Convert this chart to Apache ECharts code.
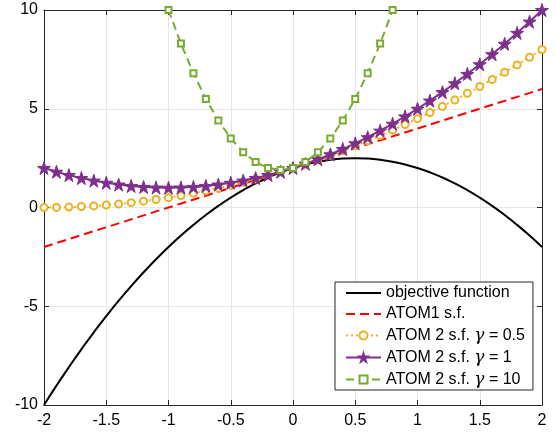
<!DOCTYPE html>
<html>
<head>
<meta charset="utf-8">
<script src="https://cdn.jsdelivr.net/npm/echarts@6/dist/echarts.min.js"></script>
<style>
  html, body { margin: 0; padding: 0; background: #fff; }
  #chart { width: 556px; height: 432px; }
</style>
</head>
<body>
<div id="chart"></div>
<script>
// x 取值 (-2 .. 2, 步长 0.1)
const xs = [-2, -1.9, -1.8, -1.7, -1.6, -1.5, -1.4, -1.3, -1.2, -1.1, -1, -0.9, -0.8, -0.7, -0.6, -0.5, -0.4, -0.3, -0.2, -0.1,
  0, 0.1, 0.2, 0.3, 0.4, 0.5, 0.6, 0.7, 0.8, 0.9, 1, 1.1, 1.2, 1.3, 1.4, 1.5, 1.6, 1.7, 1.8, 1.9, 2];

// 目标函数
const objective = [-10, -9.02, -8.08, -7.18, -6.32, -5.5, -4.72, -3.98, -3.28, -2.62, -2, -1.42, -0.88, -0.38, 0.08, 0.5, 0.88, 1.22, 1.52, 1.78,
  2, 2.18, 2.32, 2.42, 2.48, 2.5, 2.48, 2.42, 2.32, 2.18, 2, 1.78, 1.52, 1.22, 0.88, 0.5, 0.08, -0.38, -0.88, -1.42, -2];

// ATOM1 s.f. (直线两端)
const atom1X = [-2, 2];
const atom1Y = [-2, 6];

// ATOM 2 s.f. γ = 0.5
const gammaHalf = [0, 0.005, 0.02, 0.045, 0.08, 0.125, 0.18, 0.245, 0.32, 0.405, 0.5, 0.605, 0.72, 0.845, 0.98, 1.125, 1.28, 1.445, 1.62, 1.805,
  2, 2.205, 2.42, 2.645, 2.88, 3.125, 3.38, 3.645, 3.92, 4.205, 4.5, 4.805, 5.12, 5.445, 5.78, 6.125, 6.48, 6.845, 7.22, 7.605, 8];

// ATOM 2 s.f. γ = 1
const gammaOne = [2, 1.81, 1.64, 1.49, 1.36, 1.25, 1.16, 1.09, 1.04, 1.01, 1, 1.01, 1.04, 1.09, 1.16, 1.25, 1.36, 1.49, 1.64, 1.81,
  2, 2.21, 2.44, 2.69, 2.96, 3.25, 3.56, 3.89, 4.24, 4.61, 5, 5.41, 5.84, 6.29, 6.76, 7.25, 7.76, 8.29, 8.84, 9.41, 10];

// ATOM 2 s.f. γ = 10 (只画出 y <= 10 的部分)
const gammaTenX = [-1, -0.9, -0.8, -0.7, -0.6, -0.5, -0.4, -0.3, -0.2, -0.1, 0, 0.1, 0.2, 0.3, 0.4, 0.5, 0.6, 0.7, 0.8];
const gammaTenY = [10, 8.3, 6.8, 5.5, 4.4, 3.5, 2.8, 2.3, 2, 1.9, 2, 2.3, 2.8, 3.5, 4.4, 5.5, 6.8, 8.3, 10];

const xTicks = [-2, -1.5, -1, -0.5, 0, 0.5, 1, 1.5, 2];
const yTicks = [-10, -5, 0, 5, 10];

const seriesNames = ['objective function', 'ATOM1 s.f.', 'ATOM 2 s.f. γ = 0.5', 'ATOM 2 s.f. γ = 1', 'ATOM 2 s.f. γ = 10'];

function zip(a, b) {
  return a.map((v, i) => [v, b[i]]);
}

const kFont = 'Liberation Sans, Arial, sans-serif';
const kAxisColor = '#262626';
const kStar = 'path://M50,0 L61.2,34.5 L97.6,34.5 L68.2,55.9 L79.4,90.5 L50,69.1 L20.6,90.5 L31.8,55.9 L2.4,34.5 L38.8,34.5 Z';

const chart = echarts.init(document.getElementById('chart'));

const axisCommon = {
  axisLine: { show: true, onZero: false, lineStyle: { color: kAxisColor, width: 1 } },
  axisTick: { show: true, inside: true, length: 5, lineStyle: { color: kAxisColor } },
};

// 图例：前两项不带标记
const legendData = seriesNames.map((name, i) => (i < 2 ? { name, itemStyle: { opacity: 0 } } : { name }));

const option = {
  animation: false,
  backgroundColor: '#fff',
  grid: { left: 44, right: 14, top: 10, bottom: 27, containLabel: false },
  xAxis: [{
    type: 'value',
    min: -2,
    max: 2,
    interval: 0.5,
    ...axisCommon,
    axisLabel: {
      color: '#000', fontSize: 16, fontFamily: kFont, margin: 8,
      formatter: v => xTicks.includes(v) ? String(v) : '',
    },
    splitLine: { show: true, lineStyle: { color: '#e6e6e6', width: 1 } },
  }, {
    type: 'value',
    position: 'top',
    min: -2,
    max: 2,
    interval: 0.5,
    ...axisCommon,
    axisLabel: { show: false },
    splitLine: { show: false },
  }],
  yAxis: [{
    type: 'value',
    min: -10,
    max: 10,
    interval: 5,
    ...axisCommon,
    axisLabel: {
      color: '#000', fontSize: 16, fontFamily: kFont, margin: 6,
      formatter: v => yTicks.includes(v) ? String(v) : '',
    },
    splitLine: { show: true, lineStyle: { color: '#e6e6e6', width: 1 } },
  }, {
    type: 'value',
    position: 'right',
    min: -10,
    max: 10,
    interval: 5,
    ...axisCommon,
    axisLabel: { show: false },
    splitLine: { show: false },
  }],
  legend: {
    data: legendData,
    orient: 'vertical',
    left: 335,
    top: 282,
    padding: [3, 8, 2, 10],
    itemWidth: 35,
    itemHeight: 10,
    itemGap: 5,
    backgroundColor: '#fff',
    borderColor: kAxisColor,
    borderWidth: 1,
    borderRadius: 0,
    formatter: name => {
      const idx = name.indexOf('γ');
      if (idx < 0) return `{n|${name}}`;
      return `{n|${name.slice(0, idx)}}{g|γ}{n|${name.slice(idx + 1)}}`;
    },
    textStyle: {
      color: '#000',
      fontSize: 16,
      fontFamily: kFont,
      rich: {
        n: { fontSize: 16, fontFamily: kFont, color: '#000', lineHeight: 16 },
        g: { fontSize: 17, fontFamily: 'DejaVu Serif, Liberation Serif, serif', fontStyle: 'italic', color: '#000', lineHeight: 16 },
      },
    },
  },
  series: [{
    name: seriesNames[0],
    type: 'line',
    data: zip(xs, objective),
    smooth: true,
    showSymbol: false,
    symbol: 'none',
    lineStyle: { color: '#000', width: 2 },
    itemStyle: { color: '#000' },
    z: 2,
  }, {
    name: seriesNames[1],
    type: 'line',
    data: zip(atom1X, atom1Y),
    symbol: 'none',
    lineStyle: { color: '#ff0000', width: 2, type: [9, 5] },
    itemStyle: { color: '#ff0000' },
    z: 3,
  }, {
    name: seriesNames[2],
    type: 'line',
    data: zip(xs, gammaHalf),
    symbol: 'emptyCircle',
    symbolSize: 7,
    lineStyle: { color: '#EDB120', width: 2, type: [2, 3] },
    itemStyle: { color: '#EDB120', borderWidth: 2.5 },
    z: 4,
  }, {
    name: seriesNames[3],
    type: 'line',
    data: zip(xs, gammaOne),
    symbol: kStar,
    symbolSize: 13,
    lineStyle: { color: '#7E2F8E', width: 2 },
    itemStyle: { color: '#7E2F8E', borderColor: '#7E2F8E', borderWidth: 1 },
    z: 5,
  }, {
    name: seriesNames[4],
    type: 'line',
    data: zip(gammaTenX, gammaTenY),
    symbol: 'emptyRect',
    symbolSize: 6,
    lineStyle: { color: '#77AC30', width: 2, type: [8, 5] },
    itemStyle: { color: '#77AC30', borderWidth: 2 },
    z: 6,
  }],
};

chart.setOption(option);
</script>
</body>
</html>
